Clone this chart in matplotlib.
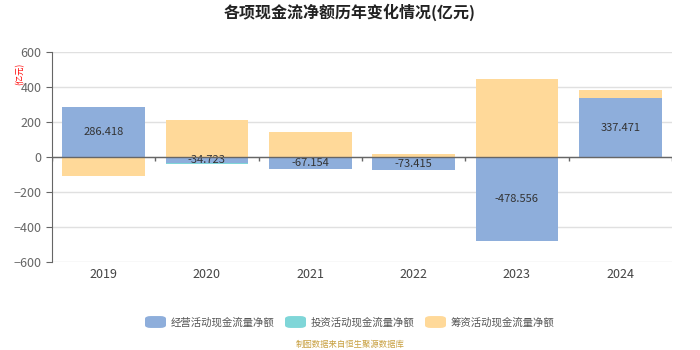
import matplotlib
matplotlib.use("Agg")
import matplotlib.pyplot as plt
from matplotlib.patches import FancyBboxPatch
import numpy as np

plt.rcParams['font.family'] = ['Noto Sans CJK SC', 'DejaVu Sans']

years = ["2019", "2020", "2021", "2022", "2023", "2024"]
operating = [286.418, -34.723, -67.154, -73.415, -478.556, 337.471]
investing = [-10, -40, -20, -10, -30, -5]
financing = [-108, 212, 143, 17, 446, 383]

c_op = "#8eaedb"
c_inv = "#7fd6d8"
c_fin = "#ffd999"

fig = plt.figure(figsize=(7, 3.5), dpi=100)
ax = fig.add_axes([0.074, 0.251, 0.886, 0.60])

x = np.arange(len(years))
w = 0.8
ax.bar(x, investing, w, color=c_inv, zorder=2)
ax.bar(x, financing, w, color=c_fin, zorder=3)
ax.bar(x, operating, w, color=c_op, zorder=4)

for xi, v in zip(x, operating):
    ax.text(xi, v / 2, f"{v:.3f}", ha="center", va="center", fontsize=8,
            color="#333333", zorder=5)

ax.set_xlim(-0.5, len(years) - 0.5)
ax.set_ylim(-600, 600)
ax.set_yticks(range(-600, 601, 200))
ax.yaxis.grid(True, color="#e0e0e0", linewidth=1, zorder=0)
ax.set_axisbelow(True)
for s in ["top", "right", "bottom"]:
    ax.spines[s].set_visible(False)
ax.spines["left"].set_color("#666666")
ax.tick_params(axis="y", colors="#666666", labelsize=9, length=4, color="#666666")
ax.tick_params(axis="x", length=0, labelsize=9, colors="#444444", pad=4)
ax.set_xticks(x)
ax.set_xticklabels(years)

# x axis line at zero with boundary ticks
ax.axhline(0, color="#666666", linewidth=1, zorder=6)
ax.vlines(np.arange(-0.5, len(years)), 0, -22, color="#666666", linewidth=1, zorder=6)

fig.text(0.5, 0.965, "各项现金流净额历年变化情况(亿元)", ha="center", va="center",
         fontsize=11.5, fontweight="bold", color="#222222")
fig.text(0.029, 0.79, "(亿元)", ha="center", va="center", rotation=90,
         fontsize=6, color="red")

legend_items = [("经营活动现金流量净额", c_op), ("投资活动现金流量净额", c_inv),
                ("筹资活动现金流量净额", c_fin)]
lx = [145 / 700, 285 / 700, 425 / 700]
for (label, col), px in zip(legend_items, lx):
    fig.patches.append(FancyBboxPatch((px, 0.063), 0.03, 0.034,
                                      boxstyle="round,pad=0,rounding_size=0.008",
                                      transform=fig.transFigure, facecolor=col,
                                      edgecolor="none"))
    fig.text(px + 26 / 700, 0.08, label, ha="left", va="center", fontsize=7.5,
             color="#555555")

fig.text(0.5, 0.016, "制图数据来自恒生聚源数据库", ha="center", va="center",
         fontsize=6, color="#c8a040")

fig.savefig("out.png", dpi=100)
